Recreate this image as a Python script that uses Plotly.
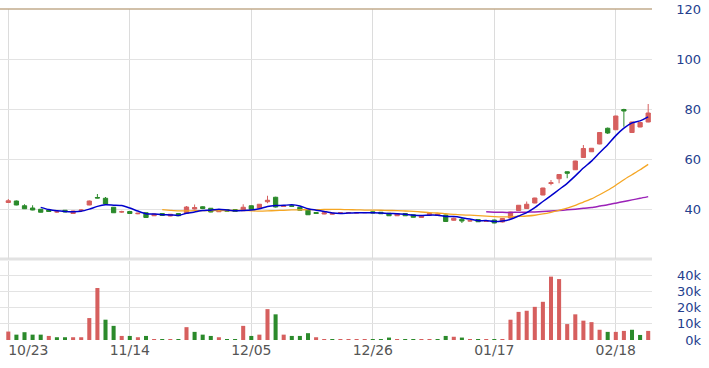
import plotly.graph_objects as go
import pandas as pd

# ---------------- data ----------------
tick_labels = ["10/23", "11/14", "12/05", "12/26", "01/17", "02/18"]
tick_every = 15

opens = [42.6, 43.2, 41.3, 40.4, 39.9, 39.6, 38.8, 39.5, 38.2, 39.3,
         41.6, 44.6, 44.3, 40.7, 38.8, 39.0, 38.1, 38.5, 37.3, 38.2,
         37.2, 38.2, 38.3, 40.0, 40.9, 40.3, 38.9, 39.8, 39.8, 39.3,
         41.3, 40.4, 42.9, 44.7, 41.0, 41.3, 40.7, 39.9, 38.6, 38.0,
         37.9, 38.5, 38.5, 38.4, 38.5, 38.9, 38.7, 38.3, 37.3, 38.2,
         37.7, 36.6, 37.6, 37.4, 37.6, 35.5, 35.9, 35.2, 35.8, 35.0,
         35.6, 34.8, 36.4, 39.4, 40.2, 42.4, 45.6, 50.2, 52.1, 54.9,
         55.7, 60.6, 62.9, 66.0, 72.3, 71.7, 79.8, 70.6, 72.8, 74.8]
highs = [44.0, 43.4, 41.9, 41.5, 40.0, 39.8, 39.3, 39.6, 39.4, 39.9,
         43.4, 46.0, 44.8, 40.8, 39.3, 39.1, 38.5, 38.6, 38.1, 38.3,
         38.0, 38.3, 41.2, 41.8, 41.1, 40.4, 39.3, 39.9, 39.9, 41.9,
         41.4, 41.9, 45.3, 44.9, 41.3, 41.4, 40.8, 40.0, 38.7, 38.6,
         38.4, 38.6, 38.6, 38.6, 38.7, 39.0, 38.8, 38.4, 38.4, 38.3,
         37.8, 37.4, 38.4, 38.1, 37.7, 36.6, 36.4, 35.6, 35.9, 35.3,
         35.7, 36.4, 38.9, 41.6, 43.0, 44.5, 48.5, 51.6, 54.0, 55.0,
         59.3, 65.6, 64.4, 70.7, 72.6, 77.3, 80.1, 74.9, 74.7, 82.0]
lows = [42.4, 41.5, 40.0, 39.5, 38.6, 38.9, 38.4, 38.7, 38.1, 39.1,
        41.5, 44.3, 41.9, 38.4, 38.5, 38.1, 37.9, 36.5, 37.2, 37.3,
        37.1, 37.2, 38.2, 39.8, 40.1, 38.7, 38.8, 39.0, 38.9, 39.2,
        39.8, 40.3, 42.3, 40.6, 40.9, 41.0, 39.3, 37.6, 38.1, 37.9,
        37.8, 38.4, 38.4, 38.3, 38.4, 38.3, 38.0, 37.2, 37.2, 37.2,
        36.6, 36.5, 37.5, 37.3, 34.9, 35.3, 34.4, 35.0, 34.8, 34.8,
        34.3, 34.6, 36.3, 39.3, 40.0, 42.3, 45.5, 49.5, 50.3, 52.3,
        55.6, 60.5, 62.8, 65.9, 70.0, 71.6, 72.9, 70.5, 72.7, 74.7]
closes = [43.3, 41.6, 40.1, 39.6, 38.7, 39.0, 38.9, 38.8, 39.2, 39.6,
          43.2, 44.4, 42.0, 38.5, 38.9, 38.2, 38.3, 36.6, 38.0, 37.4,
          37.9, 37.3, 40.8, 40.6, 40.2, 38.8, 39.2, 39.1, 39.0, 40.7,
          39.9, 41.9, 43.5, 40.8, 41.2, 41.1, 39.5, 37.7, 38.2, 38.5,
          38.3, 38.5, 38.5, 38.5, 38.6, 38.4, 38.1, 37.3, 38.2, 37.3,
          36.7, 37.3, 38.2, 38.0, 35.0, 36.3, 35.2, 35.3, 34.9, 35.1,
          34.4, 36.2, 38.8, 41.5, 41.9, 44.4, 48.4, 50.5, 53.8, 54.3,
          59.2, 64.2, 64.3, 70.6, 70.4, 77.2, 79.2, 74.8, 74.6, 78.4]
volumes_k = [5.2, 3.3, 4.8, 3.3, 3.3, 2.5, 1.7, 1.7, 1.7, 1.7,
             13.5, 32.0, 12.5, 8.7, 2.5, 2.5, 1.7, 2.5, 0.6, 0.6,
             0.6, 0.4, 7.9, 5.0, 3.3, 2.5, 1.7, 0.6, 0.6, 8.7,
             2.5, 3.3, 19.0, 15.8, 3.3, 2.5, 2.5, 4.2, 1.7, 0.6,
             0.4, 0.4, 0.4, 0.4, 0.4, 0.4, 0.4, 1.5, 0.4, 0.4,
             0.4, 0.4, 0.4, 0.4, 2.5, 2.0, 1.5, 0.4, 0.4, 0.4,
             0.4, 0.4, 12.5, 17.3, 18.0, 20.4, 23.5, 39.0, 37.5, 9.8,
             15.8, 11.9, 11.0, 6.3, 5.0, 5.0, 5.6, 6.3, 3.1, 5.6]
price_ticks = [40, 60, 80, 100, 120]
volume_ticks = [0, 10, 20, 30, 40]
volume_tick_labels = ["0k", "10k", "20k", "30k", "40k"]

# ---------------- derived ----------------
n = len(closes)
idx = list(range(n))
s = pd.Series(closes)
ma5 = s.rolling(5).mean()
ma20 = s.rolling(20).mean()
ma60 = s.rolling(60).mean()

RED = "#d65f5e"
GREEN = "#2b8a2b"
vol_colors = []
for i in range(n):
    ref = opens[i] if i == 0 else closes[i - 1]
    vol_colors.append(RED if closes[i] >= ref else GREEN)

W, H = 709, 368
T, B = 9, 28
plot_h = H - T - B
x_right = 652
price_bottom_px = 259
vol_top_px = 261
bottom_px = H - B
x_range = [-1.025, 79.47]
px_per_bar = x_right / (x_range[1] - x_range[0])

grid_vals = [i * tick_every for i in range(len(tick_labels))]
# first label is justified so that it starts at its grid line (kept inside the chart)
first_label_w = 40.0
label_vals = list(grid_vals)
label_vals[0] = grid_vals[0] + (first_label_w / 2) / px_per_bar

fig = go.Figure()
fig.add_trace(go.Candlestick(
    x=idx, open=opens, high=highs, low=lows, close=closes,
    increasing=dict(line=dict(color=RED, width=1), fillcolor=RED),
    decreasing=dict(line=dict(color=GREEN, width=1), fillcolor=GREEN),
    whiskerwidth=0, xaxis="x", yaxis="y", showlegend=False, hoverinfo="skip"))
for ma, col, w in [(ma60, "#9b22b8", 1.5), (ma20, "#f5a623", 1.3), (ma5, "#0000cc", 1.5)]:
    fig.add_trace(go.Scatter(x=idx, y=ma, mode="lines",
                             line=dict(color=col, width=w, shape="spline", smoothing=0.6),
                             xaxis="x", yaxis="y", showlegend=False, hoverinfo="skip"))
fig.add_trace(go.Bar(x=idx, y=volumes_k, marker=dict(color=vol_colors, line=dict(width=0)),
                     width=0.5, xaxis="x", yaxis="y2", showlegend=False, hoverinfo="skip"))
# transparent carrier so the date-label axis (overlay) gets drawn
fig.add_trace(go.Scatter(x=idx, y=volumes_k, mode="markers",
                         marker=dict(opacity=0, size=1),
                         xaxis="x2", yaxis="y2", showlegend=False, hoverinfo="skip"))

x_dom_right = x_right / W
axis_pos = 701 / W
fig.update_layout(
    width=W, height=H,
    margin=dict(l=0, r=0, t=T, b=B, autoexpand=False),
    paper_bgcolor="white", plot_bgcolor="white",
    font=dict(family="DejaVu Sans, Verdana, sans-serif"),
    boxgap=0.25,
    xaxis=dict(domain=[0, x_dom_right], range=x_range,
               tickmode="array", tickvals=grid_vals, showticklabels=False,
               automargin=False,
               showgrid=True, gridcolor="#dcdcdc", gridwidth=1,
               zeroline=False, showline=False, ticks="",
               anchor="y2", rangeslider=dict(visible=False), fixedrange=True),
    xaxis2=dict(overlaying="x", anchor="y2", domain=[0, x_dom_right], range=x_range,
                tickmode="array", tickvals=label_vals, ticktext=tick_labels,
                automargin=False, showgrid=False, zeroline=False, showline=False,
                side="bottom",
                ticks="", tickfont=dict(size=14, color="#555555"), fixedrange=True),
    yaxis=dict(domain=[(bottom_px - price_bottom_px) / plot_h, 1], range=[20, 120],
               tickmode="array", tickvals=price_ticks, automargin=False,
               showgrid=True, gridcolor="#e3e3e3", gridwidth=1, zeroline=False,
               anchor="free", position=axis_pos, side="left", ticks="",
               tickfont=dict(size=13, color="#24408e"), fixedrange=True),
    yaxis2=dict(domain=[0, (bottom_px - vol_top_px) / plot_h],
                range=[0, (bottom_px - vol_top_px) / 1.625], automargin=False,
                tickmode="array", tickvals=volume_ticks, ticktext=volume_tick_labels,
                showgrid=True, gridcolor="#e3e3e3", gridwidth=1, zeroline=False,
                anchor="free", position=axis_pos, side="left", ticks="",
                tickfont=dict(size=13, color="#24408e"), fixedrange=True),
    shapes=[
        dict(type="line", xref="x domain", yref="y domain", x0=0, x1=1, y0=1, y1=1,
             line=dict(color="#c2ab8c", width=1.5), layer="above"),
        dict(type="line", xref="x domain", yref="y domain", x0=0, x1=1, y0=0, y1=0,
             line=dict(color="#e2e2e2", width=3), layer="below"),
    ],
)

fig.write_html("out.html")
